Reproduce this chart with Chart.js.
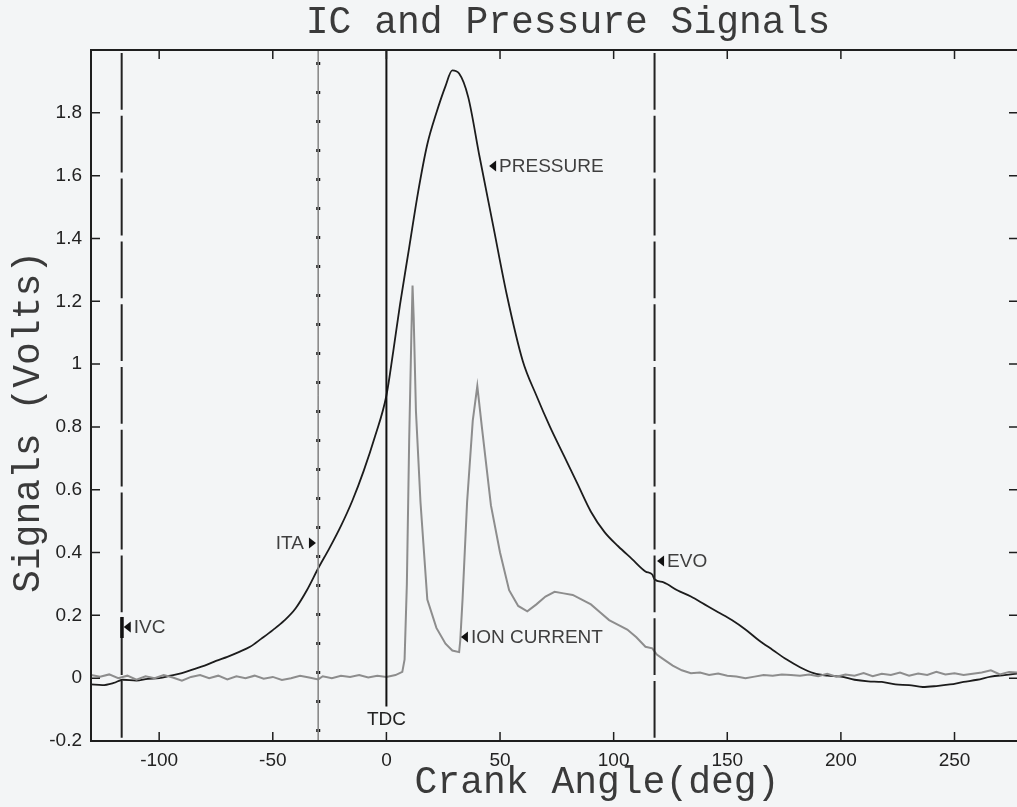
<!DOCTYPE html>
<html>
<head>
<meta charset="utf-8">
<style>
  html, body { margin: 0; padding: 0; background: #f3f5f6; }
  #wrap { width: 1017px; height: 807px; }
</style>
<script src="https://cdn.jsdelivr.net/npm/chart.js@4"></script>
</head>
<body>
<div id="wrap"><canvas id="graph" width="1017" height="807"></canvas></div>
<script>
// crank angle (deg) / signal (V)
var pressureAngle = [-130, -125, -120, -116, -110, -105, -100, -95, -90, -85, -80, -75, -70, -65, -60, -55, -50, -45, -40, -35, -30, -25, -20, -15, -10, -5, 0, 3, 6, 10, 14, 18, 22, 26, 29, 32, 36, 41, 47, 53, 60, 66, 72, 78, 84, 90, 96, 102, 108, 114, 117, 118, 122, 128, 134, 140, 146, 152, 158, 164, 170, 176, 182, 188, 194, 200, 206, 212, 218, 224, 230, 236, 242, 248, 254, 260, 266, 272, 278];
var pressureValue = [-0.02, -0.022, -0.015, -0.005, -0.008, -0.002, 0.0, 0.008, 0.016, 0.028, 0.04, 0.055, 0.068, 0.083, 0.1, 0.126, 0.153, 0.183, 0.222, 0.28, 0.35, 0.415, 0.485, 0.565, 0.66, 0.77, 0.9, 1.04, 1.19, 1.37, 1.55, 1.7, 1.8, 1.885, 1.935, 1.925, 1.85, 1.66, 1.44, 1.22, 1.01, 0.9, 0.8, 0.71, 0.62, 0.53, 0.465, 0.42, 0.38, 0.34, 0.33, 0.315, 0.305, 0.28, 0.26, 0.235, 0.21, 0.185, 0.155, 0.12, 0.09, 0.06, 0.035, 0.016, 0.008, 0.005, -0.005, -0.01, -0.012, -0.02, -0.022, -0.028, -0.025, -0.02, -0.012, -0.005, 0.005, 0.01, 0.015];

var ionAngle = [-130, -126, -122, -118, -114, -110, -106, -102, -98, -94, -90, -86, -82, -78, -74, -70, -66, -62, -58, -54, -50, -46, -42, -38, -34, -30, -28, -24, -20, -16, -12, -8, -4, 0, 4, 7, 8, 9, 10, 11, 11.5, 12, 13, 15, 18, 22, 26, 29, 32, 32.5, 33.5, 35.5, 38, 40, 42, 46, 50, 54, 58, 62, 66, 70, 74, 78, 82, 86, 90, 94, 98, 102, 106, 110, 114, 117, 118, 119, 122, 126, 130, 134, 138, 142, 146, 150, 154, 158, 162, 166, 170, 174, 178, 182, 186, 190, 194, 198, 202, 206, 210, 214, 218, 222, 226, 230, 234, 238, 242, 246, 250, 254, 258, 262, 266, 270, 274, 278];
var ionValue = [0.01, 0.005, 0.012, 0.0, 0.008, -0.005, 0.006, 0.0, 0.01, 0.002, -0.008, 0.004, 0.01, 0.0, 0.008, -0.004, 0.006, 0.0, 0.008, -0.002, 0.004, -0.006, 0.0, 0.008, 0.002, -0.004, 0.006, 0.0, 0.008, 0.004, 0.01, 0.002, 0.008, 0.004, 0.01, 0.02, 0.06, 0.3, 0.75, 1.1, 1.25, 1.15, 0.85, 0.56, 0.25, 0.16, 0.11, 0.088, 0.083, 0.12, 0.25, 0.56, 0.82, 0.93, 0.8, 0.55, 0.4, 0.28, 0.23, 0.213, 0.235, 0.26, 0.275, 0.27, 0.265, 0.25, 0.235, 0.21, 0.185, 0.17, 0.155, 0.13, 0.1, 0.095, 0.085, 0.075, 0.06, 0.04, 0.025, 0.016, 0.018, 0.01, 0.015, 0.008, 0.005, 0.0, 0.005, 0.01, 0.008, 0.012, 0.01, 0.008, 0.012, 0.006, 0.014, 0.005, 0.012, 0.008, 0.016, 0.006, 0.014, 0.01, 0.018, 0.008, 0.015, 0.01, 0.02, 0.012, 0.016, 0.01, 0.014, 0.018, 0.025, 0.012, 0.02, 0.018];

// event markers: IVC, ITA, TDC, EVO
var markerNames = ['IVC', 'ITA', 'TDC', 'EVO'];
var markerAngle = [-116.5, -30, 0, 118];
var markerLow = [-0.2, -0.2, -0.09, -0.2];
var markerHigh = [2.0, 2.0, 2.0, 2.0];

var xTicks = [-100, -50, 0, 50, 100, 150, 200, 250];
var yTicks = [-0.2, 0, 0.2, 0.4, 0.6, 0.8, 1, 1.2, 1.4, 1.6, 1.8];

function pts(xs, ys) {
  return xs.map(function (x, i) { return { x: x, y: ys[i] }; });
}
function marker(i) {
  return [{ x: markerAngle[i], y: markerHigh[i] }, { x: markerAngle[i], y: markerLow[i] }];
}

var lineBase = { pointRadius: 0, tension: 0, fill: false };

var datasets = [
  Object.assign({ data: marker(1), borderColor: '#8a8a8a', borderWidth: 1 }, lineBase),
  Object.assign({ data: marker(1), borderColor: '#111', borderWidth: 4, borderDash: [3, 26], borderDashOffset: -12 }, lineBase),
  Object.assign({ data: marker(0), borderColor: '#222', borderWidth: 2, borderDash: [56.8, 6], borderDashOffset: -3 }, lineBase),
  Object.assign({ data: marker(2), borderColor: '#111', borderWidth: 2 }, lineBase),
  Object.assign({ data: marker(3), borderColor: '#222', borderWidth: 2, borderDash: [56.8, 6], borderDashOffset: -3 }, lineBase),
  Object.assign({ data: pts(ionAngle, ionValue), borderColor: '#8d8d8d', borderWidth: 2 }, lineBase),
  Object.assign({}, lineBase, { data: pts(pressureAngle, pressureValue), borderColor: '#1c1c1c', borderWidth: 1.8, cubicInterpolationMode: 'monotone' })
];

// label arrows: tip position in data units
var notes = [
  { text: 'PRESSURE', x: 45.2, y: 1.631, dir: 'left' },
  { text: 'ITA', x: -31, y: 0.43, dir: 'right' },
  { text: 'EVO', x: 119.1, y: 0.373, dir: 'left' },
  { text: 'ION CURRENT', x: 32.8, y: 0.131, dir: 'left' },
  { text: 'IVC', x: -115.6, y: 0.163, dir: 'left', bar: true },
  { text: 'TDC', x: 0, y: -0.133, dir: 'none' }
];

var decor = {
  id: 'decor',
  beforeDraw: function (chart) {
    var c = chart.ctx;
    c.save();
    c.fillStyle = '#f3f5f6';
    c.fillRect(0, 0, chart.width, chart.height);
    c.restore();
  },
  afterDraw: function (chart) {
    var c = chart.ctx, a = chart.chartArea;
    var xs = chart.scales.x, ys = chart.scales.y;
    c.save();
    // frame
    c.strokeStyle = '#1e1e1e';
    c.lineWidth = 2;
    c.beginPath();
    c.moveTo(a.right + 2, a.top);
    c.lineTo(a.left, a.top);
    c.lineTo(a.left, a.bottom);
    c.lineTo(a.right + 2, a.bottom);
    c.stroke();
    // inward ticks
    c.lineWidth = 1.5;
    c.beginPath();
    xTicks.forEach(function (v) {
      var px = xs.getPixelForValue(v);
      c.moveTo(px, a.bottom); c.lineTo(px, a.bottom - 9);
      c.moveTo(px, a.top); c.lineTo(px, a.top + 9);
    });
    yTicks.forEach(function (v) {
      var py = ys.getPixelForValue(v);
      c.moveTo(a.left, py); c.lineTo(a.left + 9, py);
      c.moveTo(a.right, py); c.lineTo(a.right - 8, py);
    });
    c.stroke();

    // notes
    c.font = '19px "Liberation Sans", Arial, sans-serif';
    c.textBaseline = 'middle';
    notes.forEach(function (n) {
      var px = xs.getPixelForValue(n.x), py = ys.getPixelForValue(n.y);
      if (n.dir === 'left') {
        c.fillStyle = '#111';
        c.beginPath();
        c.moveTo(px, py); c.lineTo(px + 7, py - 5.5); c.lineTo(px + 7, py + 5.5);
        c.closePath(); c.fill();
        if (n.bar) c.fillRect(px - 3.5, py - 10, 3.5, 21);
        c.fillStyle = '#3f3f3f';
        c.textAlign = 'left';
        c.fillText(n.text, px + 10, py + 1);
      } else if (n.dir === 'right') {
        c.fillStyle = '#111';
        c.beginPath();
        c.moveTo(px, py); c.lineTo(px - 7, py - 5.5); c.lineTo(px - 7, py + 5.5);
        c.closePath(); c.fill();
        c.fillStyle = '#3f3f3f';
        c.textAlign = 'right';
        c.fillText(n.text, px - 12, py + 1);
      } else {
        c.fillStyle = '#222';
        c.textAlign = 'center';
        c.fillText(n.text, px, py);
      }
    });

    // title and axis names
    c.fillStyle = '#3a3a3a';
    c.font = '38px "Liberation Mono", "Courier New", monospace';
    c.textAlign = 'center';
    c.textBaseline = 'middle';
    c.fillText('IC and Pressure Signals', 568, 23);
    c.fillText('Crank Angle(deg)', 597, 783);
    c.translate(29, 422);
    c.rotate(-Math.PI / 2);
    c.fillText('Signals (Volts)', 0, 0);
    c.restore();
  }
};

var tickFont = { family: '"Liberation Sans", Arial, sans-serif', size: 19 };

var chart = new Chart(document.getElementById('graph').getContext('2d'), {
  type: 'line',
  data: { datasets: datasets },
  options: {
    responsive: false,
    animation: false,
    events: [],
    layout: { padding: { top: 50, right: 0, left: 0, bottom: 0 } },
    plugins: { legend: { display: false }, tooltip: { enabled: false }, title: { display: false } },
    scales: {
      x: {
        type: 'linear',
        min: -130,
        max: 277.5,
        afterFit: function (s) { s.height = 66; },
        afterBuildTicks: function (s) { s.ticks = xTicks.map(function (v) { return { value: v }; }); },
        grid: { display: false, drawTicks: false },
        border: { display: false },
        ticks: { font: tickFont, color: '#222', padding: 8, maxRotation: 0, callback: function (v) { return String(v); } }
      },
      y: {
        type: 'linear',
        min: -0.2,
        max: 2.0,
        afterFit: function (s) { s.width = 91; },
        afterBuildTicks: function (s) { s.ticks = yTicks.map(function (v) { return { value: v }; }); },
        grid: { display: false, drawTicks: false },
        border: { display: false },
        ticks: { font: tickFont, color: '#222', padding: 9, callback: function (v) { return String(Number(v.toFixed(1))); } }
      }
    }
  },
  plugins: [decor]
});
</script>
</body>
</html>
